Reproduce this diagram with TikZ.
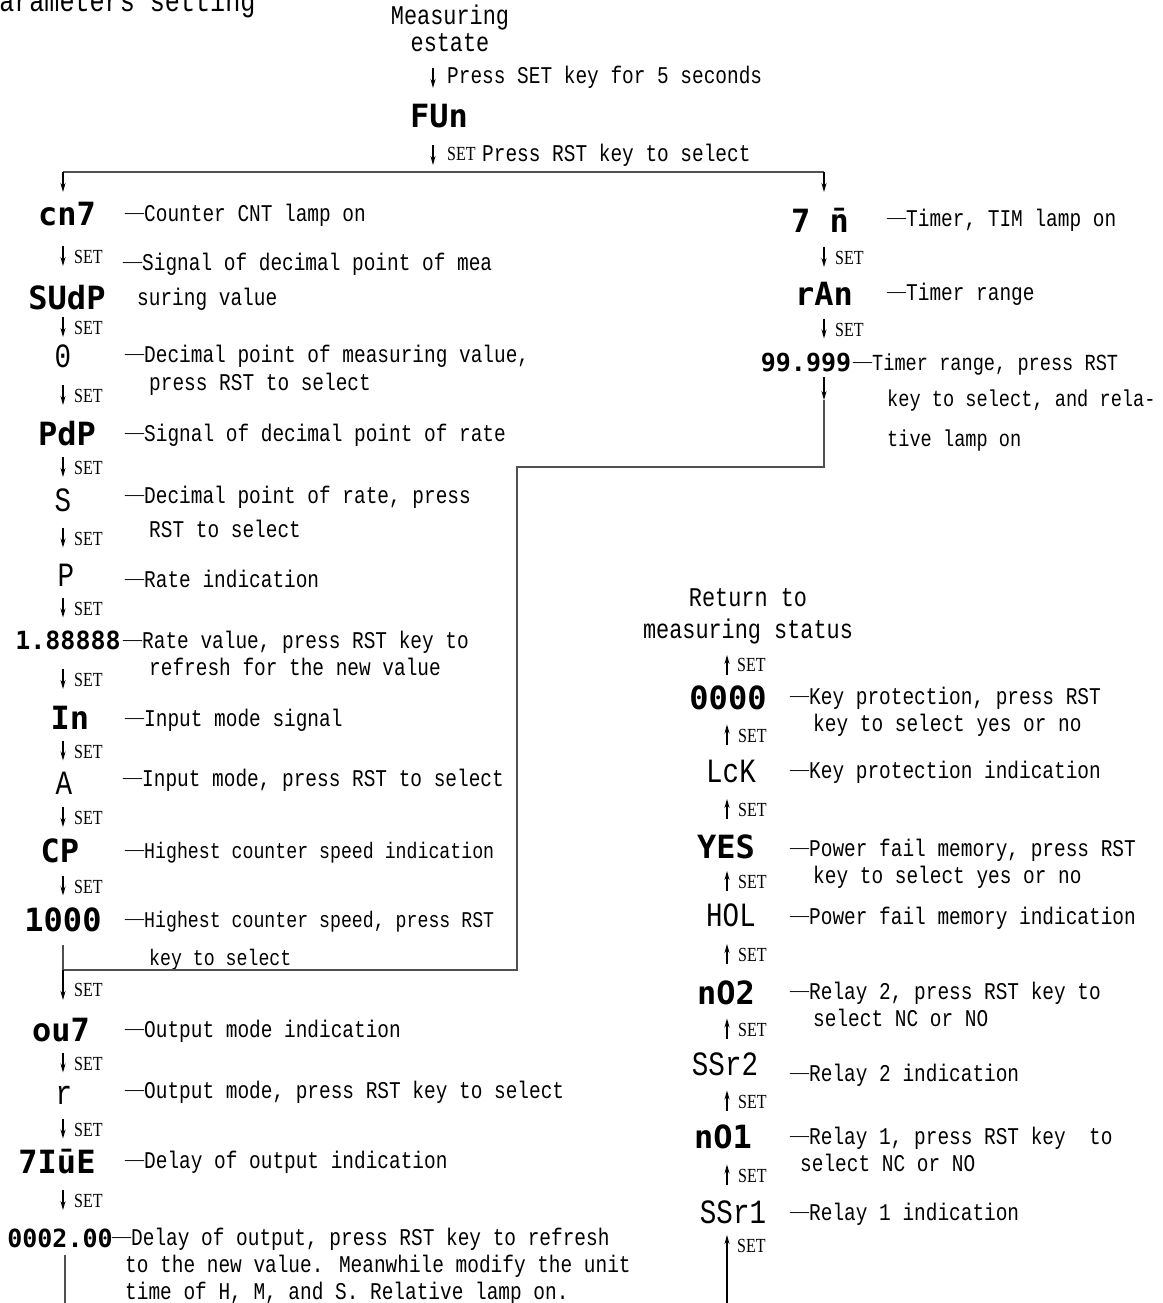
\documentclass[tikz,border=0pt]{standalone}
\usepackage{fontspec}
\usepackage{xcolor}
\usepackage{tikz}
\usetikzlibrary{arrows.meta, positioning, calc}
\newfontfamily\txtfont[FakeStretch=0.81]{Liberation Mono}
\newfontfamily\setlblfont[FakeStretch=0.8]{Liberation Serif}
\newfontfamily\dashfont{Liberation Serif}
\newfontfamily\segfont{DejaVu Sans Mono}
\definecolor{wiregray}{HTML}{505050}
\newcommand\dsh{\raisebox{2.5pt}{\dashfont\fontsize{19}{19}\selectfont —}}
% short SET arrow half way between two displays
\newcommand\setarrow[3]{%
  \coordinate (m) at ($(#1|-#2)!0.5!(#1|-#3)$);
  \draw[flow] ($(m)!10pt!(#1|-#2)$) -- ($(m)!10pt!(#1|-#3)$);
  \node[setlbl] (set-#3) at ($(m)+(11,1)$) {SET};}

\begin{document}
\begin{tikzpicture}[x=1pt, y=-1pt,
  every node/.style={inner sep=0pt},
  seg/.style={font=\segfont\bfseries\fontsize{32}{32}\selectfont},
  segsm/.style={font=\segfont\bfseries\fontsize{25}{25}\selectfont},
  big/.style={font=\txtfont\fontsize{34}{34}\selectfont},
  desc/.style={font=\txtfont\fontsize{24}{27}\selectfont, anchor=base west, align=left},
  head/.style={font=\txtfont\fontsize{27}{27}\selectfont, anchor=base, align=center},
  setlbl/.style={font=\setlblfont\fontsize{20}{20}\selectfont, anchor=west},
  flow/.style={-{Stealth[length=9pt,width=5pt]}, line width=1.3pt},
  wire/.style={line width=1.3pt, wiregray}]
  \useasboundingbox (0,0) rectangle (1162,1303);

  % start (multi-line nodes sit on the base line of their last line)
  \node[font=\txtfont\fontsize{31}{31}\selectfont, anchor=base west] (title) at (-16,12) {Parameters setting};
  \node[head] (meas) at (450,52) {Measuring\\[0pt]estate};
  \coordinate (tc) at (433,0);
  \node[seg] (fun) at (439,116) {FUn};
  \draw[flow] ($(tc|-fun)+(0,-48)$) -- ($(tc|-fun)+(0,-28)$);
  \node[desc] (hold) at (447,84) {Press SET key for 5 seconds};
  \draw[flow] ($(tc|-fun)+(0,29)$) -- ($(tc|-fun)+(0,49)$);
  \node[setlbl] (set-fun) at ($(tc|-fun)+(14,38)$) {SET};
  \node[desc] (pick) at (482,161) {Press RST key to select};
  \coordinate (bl) at (63,172);
  \coordinate (br) at (824,172);
  \draw[wire] (bl) -- (br);
  \draw[flow] (bl) -- ++(0,20);
  \draw[flow] (br) -- ++(0,20);

  % counter branch
  \coordinate (lc) at (63,0);
  \node[seg] (cnt) at (67,214) {cn7};
  \node[seg] (sudp) at (67,298) {SUdP};
  \node[big] (dec) at (63,356) {0};
  \node[seg] (pdp) at (67,434) {PdP};
  \node[big] (s) at (63,500) {S};
  \node[big] (p) at (66,575) {P};
  \node[segsm] (rate) at (68,640) {1.88888};
  \node[seg] (inp) at (70,718) {In};
  \node[big] (a) at (64,783) {A};
  \node[seg] (cp) at (60,851) {CP};
  \node[seg] (k1000) at (63,920) {1000};
  \node[seg] (out) at (61,1030) {ou7};
  \node[big] (r) at (64,1095) {r};
  \node[seg] (time) at (57,1162) {7IūE};
  \node[segsm] (delay) at (60,1238) {0002.00};

  \node[desc] (d-cnt) at (125,221) {\dsh Counter CNT lamp on};
  \node[desc] (d-sudp) at (123,305) {\dsh Signal of decimal point of mea\\[8pt]\hspace*{14pt}suring value};
  \node[desc] (d-dec) at (125,390) {\dsh Decimal point of measuring value,\\[1pt]\hspace*{24pt}press RST to select};
  \node[desc] (d-pdp) at (125,441) {\dsh Signal of decimal point of rate};
  \node[desc] (d-s) at (125,537) {\dsh Decimal point of rate, press\\[7pt]\hspace*{24pt}RST to select};
  \node[desc] (d-p) at (125,587) {\dsh Rate indication};
  \node[desc] (d-rate) at (123,675) {\dsh Rate value, press RST key to\\\hspace*{26pt}refresh for the new value};
  \node[desc] (d-inp) at (125,726) {\dsh Input mode signal};
  \node[desc] (d-a) at (123,786) {\dsh Input mode, press RST to select};
  \node[desc, font=\txtfont\fontsize{22.5}{27}\selectfont] (d-cp) at (125,858) {\dsh Highest counter speed indication};
  \node[desc, font=\txtfont\fontsize{22.5}{27}\selectfont] (d-k1000) at (125,965) {\dsh Highest counter speed, press RST\\[11pt]\hspace*{24pt}key to select};
  \node[desc] (d-out) at (125,1037) {\dsh Output mode indication};
  \node[desc] (d-r) at (125,1098) {\dsh Output mode, press RST key to select};
  \node[desc] (d-time) at (125,1168) {\dsh Delay of output indication};
  \node[desc] (d-delay) at (112,1299) {\dsh Delay of output, press RST key to refresh\\\hspace*{13pt}to the new value. Meanwhile modify the unit\\\hspace*{13pt}time of H, M, and S. Relative lamp on.};

  \setarrow{lc}{cnt}{sudp}
  \setarrow{lc}{sudp}{dec}
  \setarrow{lc}{dec}{pdp}
  \setarrow{lc}{pdp}{s}
  \setarrow{lc}{s}{p}
  \setarrow{lc}{p}{rate}
  \setarrow{lc}{rate}{inp}
  \setarrow{lc}{inp}{a}
  \setarrow{lc}{a}{cp}
  \setarrow{lc}{cp}{k1000}
  \setarrow{lc}{out}{r}
  \setarrow{lc}{r}{time}
  \setarrow{lc}{time}{delay}

  % timer branch
  \coordinate (tc2) at (824,0);
  \node[seg] (tim) at (820,220) {7 n̄};
  \node[seg] (ran) at (824,294) {rAn};
  \node[segsm] (range) at (806,363) {99.999};
  \node[desc] (d-tim) at (887,226) {\dsh Timer, TIM lamp on};
  \node[desc] (d-ran) at (887,300) {\dsh Timer range};
  \node[desc, font=\txtfont\fontsize{23}{27}\selectfont] (d-range) at (853,446) {\dsh Timer range, press RST\\[9pt]\hspace*{34pt}key to select, and rela-\\[13pt]\hspace*{34pt}tive lamp on};
  \setarrow{tc2}{tim}{ran}
  \setarrow{tc2}{ran}{range}

  % both branches meet
  \coordinate (join) at (63,970);
  \coordinate (mbot) at (517,970);
  \coordinate (mtop) at (517,467);
  \coordinate (rbend) at (824,467);
  \draw[wire] ($(lc|-k1000)+(0,25)$) -- (join);
  \draw[flow] ($(tc2|-range)+(0,14)$) -- ($(tc2|-range)+(0,37)$);
  \draw[wire] ($(tc2|-range)+(0,37)$) -- (rbend) -- (mtop) -- (mbot) -- (join);
  \draw[flow] (join) -- ++(0,30);
  \node[setlbl] (set-join) at ($(join)+(11,20)$) {SET};

  % common settings, back to measuring
  \coordinate (rc) at (727,0);
  \node[head] (back) at (748,638) {Return to\\[5pt]measuring status};
  \node[seg] (k0000) at (728,698) {0000};
  \node[big] (lck) at (731,771) {LcK};
  \node[seg] (yes) at (726,847) {YES};
  \node[big] (hol) at (731,915) {HOL};
  \node[seg] (no2) at (726,993) {nO2};
  \node[big] (ssr2) at (725,1064) {SSr2};
  \node[seg] (no1) at (723,1137) {nO1};
  \node[big] (ssr1) at (733,1212) {SSr1};

  \node[desc] (d-k0000) at (790,731) {\dsh Key protection, press RST\\\hspace*{23pt}key to select yes or no};
  \node[desc] (d-lck) at (790,778) {\dsh Key protection indication};
  \node[desc] (d-yes) at (790,883) {\dsh Power fail memory, press RST\\\hspace*{23pt}key to select yes or no};
  \node[desc] (d-hol) at (790,924) {\dsh Power fail memory indication};
  \node[desc] (d-no2) at (790,1026) {\dsh Relay 2, press RST key to\\\hspace*{23pt}select NC or NO};
  \node[desc] (d-ssr2) at (790,1081) {\dsh Relay 2 indication};
  \node[desc] (d-no1) at (790,1171) {\dsh Relay 1, press RST key\ \ to\\\hspace*{10pt}select NC or NO};
  \node[desc] (d-ssr1) at (790,1220) {\dsh Relay 1 indication};

  \setarrow{rc}{ssr1}{no1}
  \setarrow{rc}{no1}{ssr2}
  \setarrow{rc}{ssr2}{no2}
  \setarrow{rc}{no2}{hol}
  \setarrow{rc}{hol}{yes}
  \setarrow{rc}{yes}{lck}
  \setarrow{rc}{lck}{k0000}
  \draw[flow] ($(rc|-k0000)+(0,-23)$) -- ++(0,-20);
  \node[setlbl] (set-back) at (737,665) {SET};

  % delay output runs on round the bottom into SSr1
  \coordinate (lb) at (65,1330);
  \coordinate (rb) at (727,1330);
  \draw[wire] ($(lc|-delay)+(2,17)$) -- (lb) -- (rb);
  \draw[flow] (rb) -- ($(rc|-ssr1)+(0,23)$);
  \node[setlbl] (set-ssr1) at (737,1246) {SET};
\end{tikzpicture}
\end{document}
